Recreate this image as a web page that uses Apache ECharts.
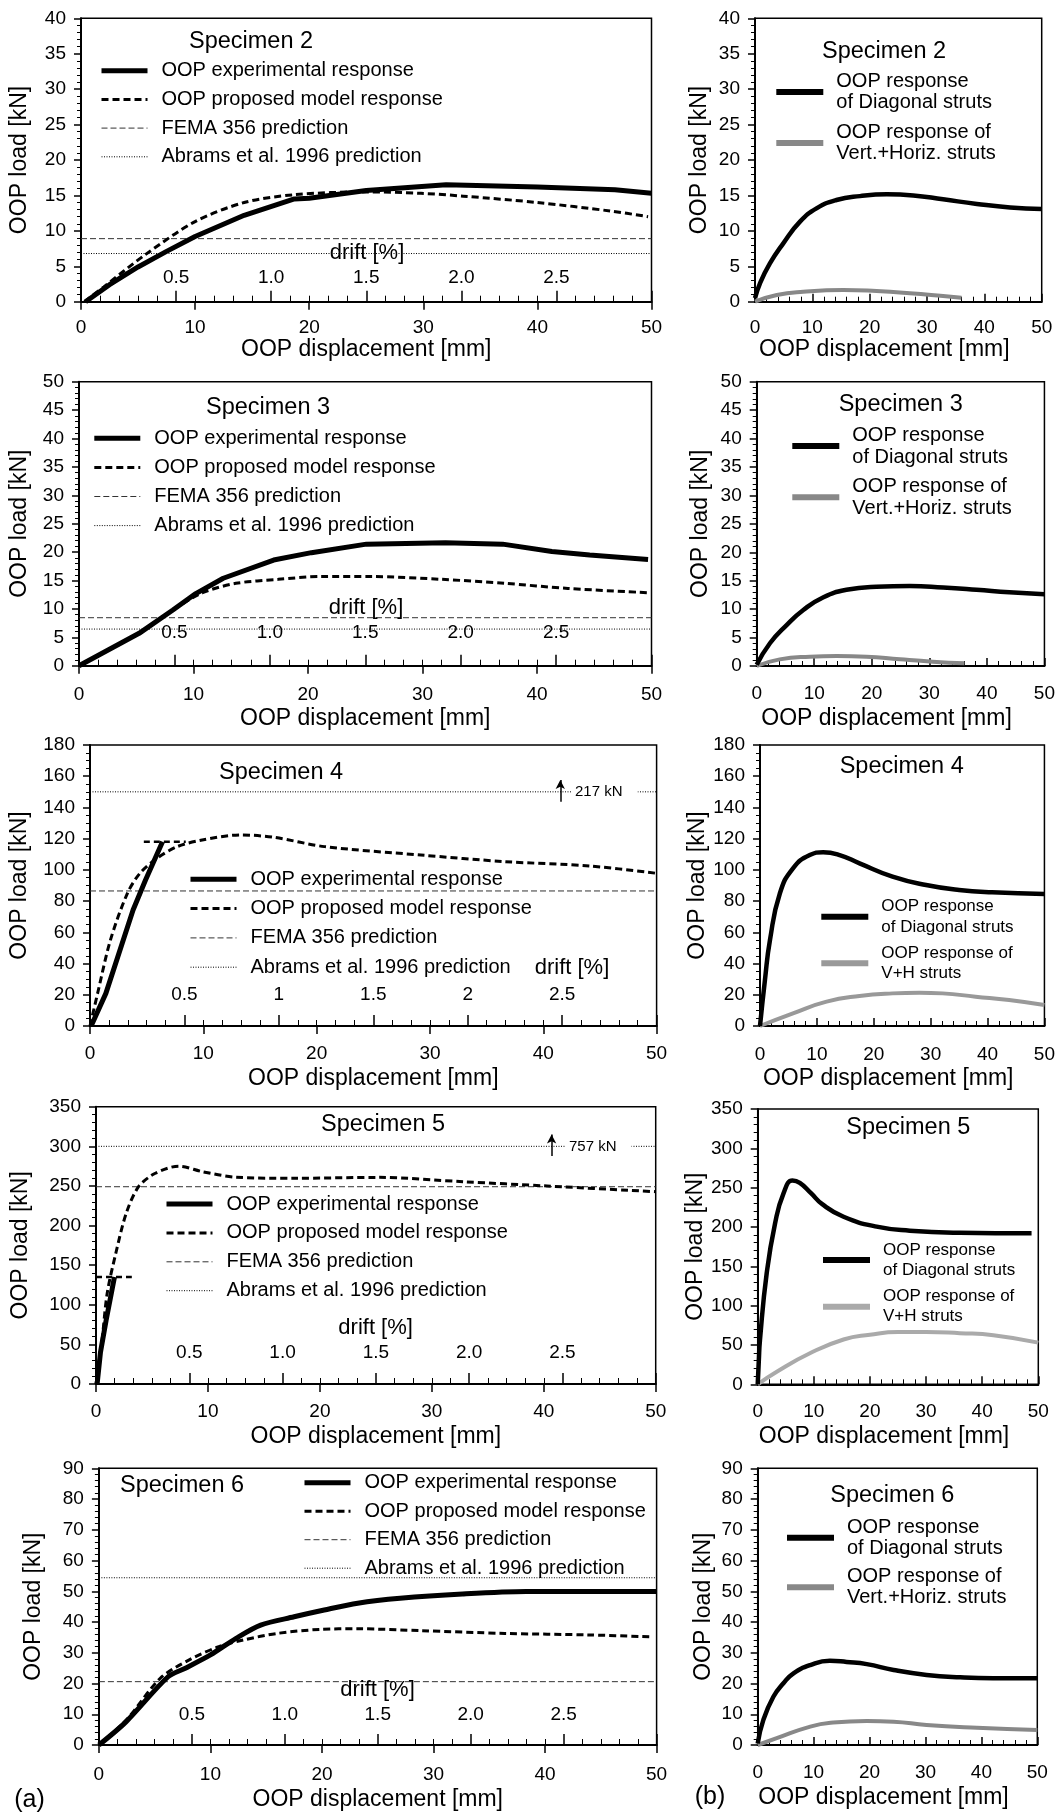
<!DOCTYPE html>
<html>
<head>
<meta charset="utf-8">
<script src="https://cdn.jsdelivr.net/npm/echarts@6/dist/echarts.min.js"></script>
<style>
  html, body { margin: 0; padding: 0; background: #fff; }
  #main { width: 1058px; height: 1813px; }
</style>
</head>
<body>
<div id="main"></div>
<script>
// ---- data (mm, kN) ----
var specimens = ["Specimen 2", "Specimen 3", "Specimen 4", "Specimen 5", "Specimen 6"];
var yMax = [40, 50, 180, 350, 90];
var yStep = [5, 5, 20, 50, 10];
var yMinor = [5, 5, 4, 5, 5];
var driftMax = 3.0;

var exp2 = [[0.4,0],[2.5,2.4],[5,4.9],[7.5,7.1],[10,9.2],[14.3,12.2],[18.7,14.5],[20,14.6],[25,15.7],[32,16.5],[40,16.2],[46.8,15.8],[50,15.3]];
var model2 = [[0.3,0],[2,2.1],[5.6,6.6],[10,11.3],[14.3,14.0],[18.7,15.1],[25,15.5],[29.8,15.3],[33.5,14.9],[40,14.0],[46.4,12.8],[49.7,12.0]];
var exp3 = [[0,0],[5.25,5.7],[8.2,9.8],[10.2,12.7],[12.6,15.4],[17,18.6],[20.3,19.9],[25.1,21.4],[32,21.65],[37,21.4],[41.3,20.1],[44.6,19.5],[49.7,18.7]];
var model3 = [[0,0],[5.25,5.7],[8.2,9.8],[10.8,12.85],[13.7,14.5],[17.4,15.2],[21.1,15.7],[25.5,15.7],[31.7,15.2],[37.2,14.5],[42.7,13.6],[49.7,12.85]];
var exp4 = [[0.1,0],[1.4,20.9],[3.8,74.3],[4.9,93.5],[6.4,118]];
var model4 = [[0,0],[0.67,20.9],[1.8,55],[3.3,85],[4.4,97.8],[5.9,107.4],[7.7,114.9],[9.9,119.2],[13.3,122.4],[16.2,120.9],[20.7,114.9],[29.2,109.5],[36.6,105.3],[44.1,102.5],[50,97.8]];
var cap4 = [[4.75,118],[8.45,118]];
var exp5 = [[0.1,0],[0.4,40],[0.9,80],[1.65,135]];
var model5 = [[0,0],[0.5,50],[1.0,114.5],[1.77,165],[2.7,215.4],[3.8,249],[5.3,266],[7.4,275],[9.5,268],[12.5,261],[17.7,259.6],[25.3,260.8],[32.8,255.3],[40.3,249.9],[50,242.7]];
var cap5 = [[0,135],[3.2,135]];
var exp6 = [[0,0],[2.45,7.6],[6.2,22.2],[7.7,24.9],[10,29.3],[12.3,34.7],[14.5,39],[17.5,41.7],[20.2,43.9],[23.2,46.1],[27,47.7],[32.6,49.1],[38.3,49.9],[50,49.9]];
var model6 = [[0,0],[2.45,8.1],[5.5,21.7],[8.1,27.7],[10.75,32],[13,34.2],[16,36.3],[19.8,37.6],[23.2,37.8],[28.9,37.2],[36.4,36.3],[44,35.8],[49.4,35.2]];

var femaLoad = [8.9, 8.45, 86.5, 249, 20.6];
var abramsLoad = [6.8, 6.45, 150, 300, 54.4];
var arrow4 = { x: 41.5, from: 143.7, to: 157.6, text: "217 kN" };
var arrow5 = { x: 40.7, from: 287.7, to: 315, text: "757 kN" };

var diag2 = [[0,0.5],[0.87,2.6],[2.6,5.4],[4.9,8.2],[7.85,11.3],[10.8,13.2],[14.2,14.35],[18.3,14.9],[23,15.15],[27.6,15.0],[32.8,14.45],[38.7,13.8],[44.5,13.3],[50,13.1]];
var vh2 = [[0,0],[3.8,0.94],[8.4,1.4],[15.4,1.65],[21.2,1.5],[27,1.2],[32.8,0.8],[36,0.56]];
var diag3 = [[0,0.2],[2.3,4.0],[5.2,7.2],[8.1,9.85],[11.6,12.1],[15.6,13.4],[20.8,13.95],[26.6,14.07],[32.4,13.8],[38.2,13.4],[43.9,12.95],[50,12.6]];
var vh3 = [[0,0],[4,1.17],[9.25,1.64],[13.9,1.76],[19.1,1.64],[24.9,1.17],[30.6,0.76],[36.1,0.47]];
var diag4 = [[0,0],[0.87,29.5],[1.75,55],[3.5,85],[5.8,101],[8.75,109.5],[11.1,111.3],[14,109.5],[17.5,104.2],[23.3,95.7],[29.2,90.3],[35,87.1],[40.8,85.6],[50,84.6]];
var vh4 = [[0,0],[5.8,8.1],[11.7,15.6],[17.5,19.2],[23.3,20.9],[28,21.35],[32.1,20.9],[37.9,18.8],[43.8,16.7],[50,13.45]];
var diag5 = [[0,0],[0.2,30],[0.4,56],[1.6,141],[3.1,204.7],[4.6,242.8],[6.2,259],[7.5,256],[9.5,243],[11.5,229],[15.3,213],[21.2,200.4],[27.1,195.3],[36,192.7],[48.8,192]];
var vh5 = [[0,0],[3.4,16],[9.3,39.4],[15.3,57],[20,63],[25,66.5],[30,66.5],[36,65],[42,62.5],[50,53]];
var diag6 = [[0,0.5],[1,8.1],[2.8,15.7],[4.6,20.1],[6.4,23.3],[9.4,26],[12.9,27.4],[15.9,27.0],[19.5,26.3],[24.3,24.4],[30.2,22.8],[36.2,22],[42.1,21.7],[50,21.7]];
var vh6 = [[0,0],[3.4,2.2],[9.4,6.0],[13.5,7.3],[19.5,7.8],[24.3,7.6],[30.2,6.5],[39.2,5.6],[50,4.9]];

var expData = [exp2, exp3, exp4, exp5, exp6];
var modelData = [model2, model3, model4, model5, model6];
var capData = [null, null, cap4, cap5, null];
var arrows = [null, null, arrow4, arrow5, null];
var diagData = [diag2, diag3, diag4, diag5, diag6];
var vhData = [vh2, vh3, vh4, vh5, vh6];

var leftNames = ["OOP experimental response", "OOP proposed model response", "FEMA 356 prediction", "Abrams et al. 1996 prediction"];
var diagName = "OOP response\nof Diagonal struts";
var vhNames = ["OOP response of\nVert.+Horiz. struts", "OOP response of\nVert.+Horiz. struts", "OOP response of\nV+H struts", "OOP response of\nV+H struts", "OOP response of\nVert.+Horiz. struts"];

// ---- styles ----
var FONT = '"Liberation Sans", Arial, sans-serif';
var expStyle = { color: "#000", width: 5, type: "solid" };
var modelStyle = { color: "#000", width: 3, type: [7, 4] };
var femaStyle = { color: "#333", width: 1, type: [6, 3] };
var abramsStyle = { color: "#000", width: 1, type: [1, 1.5] };
var leftStyles = [expStyle, modelStyle, femaStyle, abramsStyle];

// ---- layout (pixels) ----
var leftLayout = [
  { grid: [81, 18.3, 570.5, 283.4], yGap: 50, xGap: 34.5, xMargin: 17, driftMargin: 14, title: [251, 41.7], legend: [99, 59.7, 6.7], drift: [367, 253], fixed: true },
  { grid: [78.7, 381.7, 572.8, 284], yGap: 48, xGap: 41, xMargin: 20, driftMargin: 23, title: [268, 407.3], legend: [91.8, 427.3, 7.1], drift: [366, 608], fixed: true },
  { grid: [89.2, 745, 567.4, 281], yGap: 59, xGap: 41.5, xMargin: 18.5, driftMargin: 21.5, title: [281, 772.3], legend: [188, 868.3, 7.3], drift: [572, 968], fixed: false, note: [571, 791.7] },
  { grid: [96, 1106.7, 559.7, 277.3], yGap: 64, xGap: 41, xMargin: 18, driftMargin: 21.5, title: [383, 1125], legend: [164, 1193, 6.9], drift: [375.6, 1328], fixed: true, note: [565, 1147.3] },
  { grid: [98.9, 1468.3, 557.7, 276.7], yGap: 54, xGap: 43.5, xMargin: 20.5, driftMargin: 20.5, title: [182, 1486], legend: [302, 1471.7, 6.5], drift: [377.5, 1690], fixed: true }
];
var rightLayout = [
  { grid: [755, 18.3, 286.7, 283.4], yGap: 43.5, xGap: 34.5, xMargin: 17, title: [884, 52], legend: [773.3, 71, 9, 21, 20], gray: "#888" },
  { grid: [756.7, 381.7, 288.3, 284.3], yGap: 45, xGap: 41, xMargin: 18, title: [900.7, 405], legend: [789.3, 424, 7.3, 22, 20], gray: "#888" },
  { grid: [760, 745, 285.7, 281], yGap: 48, xGap: 41.5, xMargin: 19, title: [901.7, 766.7], legend: [818.3, 896.1, 5.4, 20.6, 17], gray: "#999" },
  { grid: [757.7, 1109, 280.6, 275.3], yGap: 47, xGap: 41, xMargin: 18, title: [908.3, 1127.3], legend: [820, 1240, 6.7, 20, 17], gray: "#aaa" },
  { grid: [757.7, 1468.3, 279.6, 276.7], yGap: 43, xGap: 41.5, xMargin: 18, title: [892.3, 1496], legend: [784, 1516.7, 7.6, 21, 20], gray: "#888" }
];

var grids = [], xAxes = [], yAxes = [], series = [], legends = [], graphics = [];

function makeGrid(g) {
  return { left: g[0], top: g[1], width: g[2], height: g[3], show: true, borderColor: "#000", borderWidth: 1.5, backgroundColor: "transparent", containLabel: false };
}
function makeY(gi, row, lay) {
  return {
    gridIndex: gi, type: "value", min: 0, max: yMax[row], interval: yStep[row],
    name: "OOP load [kN]", nameLocation: "middle", nameGap: lay.yGap,
    nameTextStyle: { fontSize: 23, color: "#000", fontFamily: FONT },
    axisLine: { show: true, onZero: false, lineStyle: { color: "#000", width: 2 } },
    axisTick: { show: true, length: 7, lineStyle: { color: "#000", width: 1.5 } },
    minorTick: { show: true, splitNumber: yMinor[row], length: 4, lineStyle: { color: "#000", width: 1 } },
    axisLabel: { fontSize: 19, color: "#000", fontFamily: FONT, margin: 15 },
    splitLine: { show: false }
  };
}
function makeMM(gi, lay, inside) {
  return {
    gridIndex: gi, type: "value", min: 0, max: 50, interval: 10, position: "bottom",
    name: "OOP displacement [mm]", nameLocation: "middle", nameGap: lay.xGap,
    nameTextStyle: { fontSize: 23, color: "#000", fontFamily: FONT, padding: inside ? [0, 28, 0, 0] : 0 },
    axisLine: { show: true, onZero: false, lineStyle: { color: "#000", width: 2 } },
    axisTick: { show: true, inside: inside, length: 8, lineStyle: { color: "#000", width: 1.5 } },
    minorTick: { show: inside, splitNumber: 5, length: 5, lineStyle: { color: "#000", width: 1 } },
    axisLabel: { fontSize: 19, color: "#000", fontFamily: FONT, margin: lay.xMargin },
    splitLine: { show: false }
  };
}
function makeDrift(gi, lay) {
  return {
    gridIndex: gi, type: "value", min: 0, max: driftMax, interval: 0.5, position: "bottom",
    axisLine: { show: false, onZero: false },
    axisTick: { show: true, inside: true, length: 11, lineStyle: { color: "#000", width: 1.5 } },
    minorTick: { show: true, splitNumber: 5, length: 6, lineStyle: { color: "#000", width: 1 } },
    axisLabel: {
      inside: true, fontSize: 19, color: "#000", fontFamily: FONT, margin: lay.driftMargin,
      showMinLabel: false, showMaxLabel: false,
      formatter: function (v) { return lay.fixed ? v.toFixed(1) : String(v); }
    },
    splitLine: { show: false }
  };
}
function textEl(x, y, text, size, extra) {
  var style = { text: text, x: x, y: y, fill: "#000", font: size + "px " + FONT, align: "center", verticalAlign: "middle" };
  if (extra) for (var k in extra) style[k] = extra[k];
  return { type: "text", z: 100, style: style };
}

// left column
for (var i = 0; i < 5; i++) {
  var lay = leftLayout[i];
  grids.push(makeGrid(lay.grid));
  xAxes.push(makeMM(i, lay, false));
  xAxes.push(makeDrift(i, lay));
  yAxes.push(makeY(i, i, lay));

  series.push({ name: leftNames[2], type: "line", xAxisIndex: 2 * i, yAxisIndex: i, data: [[0, femaLoad[i]], [50, femaLoad[i]]],
    symbol: "none", z: 2, lineStyle: femaStyle, itemStyle: { color: femaStyle.color } });
  var ab = { name: leftNames[3], type: "line", xAxisIndex: 2 * i, yAxisIndex: i, data: [[0, abramsLoad[i]], [50, abramsLoad[i]]],
    symbol: "none", z: 2, lineStyle: abramsStyle, itemStyle: { color: "#000" } };
  if (arrows[i]) {
    ab.markLine = { silent: true, symbol: ["none", "arrow"], symbolSize: [7, 9], label: { show: false },
      lineStyle: { type: "solid", width: 1.5, color: "#000" },
      data: [[{ coord: [arrows[i].x, arrows[i].from] }, { coord: [arrows[i].x, arrows[i].to] }]] };
    graphics.push(textEl(lay.note[0], lay.note[1], arrows[i].text, 15,
      { align: "left", backgroundColor: "#fff", padding: [3, 15, 3, 4] }));
  }
  series.push(ab);
  series.push({ name: leftNames[1], type: "line", xAxisIndex: 2 * i, yAxisIndex: i, data: modelData[i],
    symbol: "none", smooth: 0.3, z: 4, lineStyle: modelStyle, itemStyle: { color: "#000" } });
  if (capData[i]) {
    series.push({ name: "cap", type: "line", xAxisIndex: 2 * i, yAxisIndex: i, data: capData[i],
      symbol: "none", z: 4, lineStyle: { color: "#000", width: 2.5, type: [6, 4] } });
  }
  series.push({ name: leftNames[0], type: "line", xAxisIndex: 2 * i, yAxisIndex: i, data: expData[i],
    symbol: "none", smooth: i === 4 ? 0.3 : false, z: 5, lineStyle: expStyle, itemStyle: { color: "#000" } });

  legends.push({
    data: leftNames.map(function (n, k) { return { name: n, lineStyle: leftStyles[k] }; }),
    orient: "vertical", left: lay.legend[0], top: lay.legend[1], itemGap: lay.legend[2],
    padding: 0, itemWidth: 46, itemHeight: 10, selectedMode: false, itemStyle: { opacity: 0 },
    textStyle: { fontSize: 20, lineHeight: 22, color: "#000", fontFamily: FONT, padding: [0, 0, 0, 9] } });

  graphics.push(textEl(lay.title[0], lay.title[1], specimens[i], 23.5));
  graphics.push(textEl(lay.drift[0], lay.drift[1], "drift [%]", 22));
}

// right column
for (var j = 0; j < 5; j++) {
  var rl = rightLayout[j];
  var gi = 5 + j;
  grids.push(makeGrid(rl.grid));
  xAxes.push(makeMM(gi, rl, true));
  yAxes.push(makeY(gi, j, rl));
  var xi = 10 + j;
  var diagStyle = { color: "#000", width: 4.5, type: "solid" };
  var vhStyle = { color: rl.gray, width: 4, type: "solid" };
  series.push({ name: vhNames[j], type: "line", xAxisIndex: xi, yAxisIndex: gi, data: vhData[j],
    symbol: "none", smooth: 0.5, z: 3, lineStyle: vhStyle, itemStyle: { color: rl.gray } });
  series.push({ name: diagName, type: "line", xAxisIndex: xi, yAxisIndex: gi, data: diagData[j],
    symbol: "none", smooth: 0.5, z: 4, lineStyle: diagStyle, itemStyle: { color: "#000" } });
  legends.push({
    data: [{ name: diagName, lineStyle: { color: "#000", width: 6 } }, { name: vhNames[j], lineStyle: { color: rl.gray, width: 6 } }],
    orient: "vertical", left: rl.legend[0], top: rl.legend[1], itemGap: rl.legend[2],
    padding: 0, itemWidth: 47, itemHeight: 10, selectedMode: false, itemStyle: { opacity: 0 },
    textStyle: { fontSize: rl.legend[4], lineHeight: rl.legend[3], color: "#000", fontFamily: FONT, padding: [0, 0, 0, 8] } });
  graphics.push(textEl(rl.title[0], rl.title[1], specimens[j], 23.5));
}

graphics.push(textEl(29.5, 1800, "(a)", 25));
graphics.push(textEl(710, 1797, "(b)", 25));

var chart = echarts.init(document.getElementById("main"));
var option = {
  animation: false,
  backgroundColor: "#fff",
  textStyle: { fontFamily: FONT },
  grid: grids,
  xAxis: xAxes,
  yAxis: yAxes,
  legend: legends,
  series: series,
  graphic: graphics
};
option && chart.setOption(option);
</script>
</body>
</html>
